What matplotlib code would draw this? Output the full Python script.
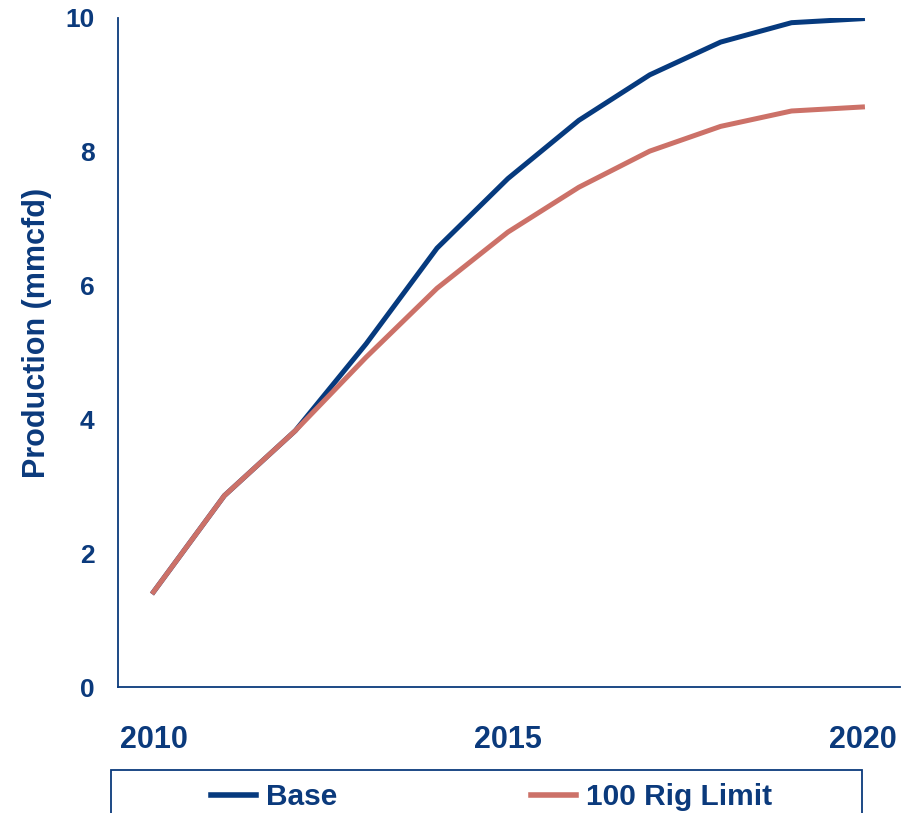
import matplotlib.pyplot as plt
from matplotlib.patches import Rectangle

# data
years = [2010, 2011, 2012, 2013, 2014, 2015, 2016, 2017, 2018, 2019, 2020]
base = [1.42, 2.86, 3.83, 5.13, 6.56, 7.60, 8.47, 9.15, 9.64, 9.93, 9.99]
rig_limit = [1.42, 2.86, 3.83, 4.93, 5.96, 6.80, 7.47, 8.01, 8.38, 8.61, 8.67]
series_names = ["Base", "100 Rig Limit"]
x_ticks = [2010, 2015, 2020]
y_ticks = [0, 2, 4, 6, 8, 10]

navy = "#0B3A7C"
base_col = "#063A7E"
rig_col = "#CC7168"

plt.rcParams["font.family"] = ["Liberation Sans", "DejaVu Sans"]
plt.rcParams["font.weight"] = "bold"

fig = plt.figure(figsize=(9.08, 8.13), dpi=100)
ax = fig.add_axes([118 / 908, 1 - 687 / 813, (900 - 118) / 908, (687 - 18) / 813])

ax.plot(years, base, color=base_col, lw=3.6, label=series_names[0], solid_joinstyle="miter")
ax.plot(years, rig_limit, color=rig_col, lw=3.6, label=series_names[1], solid_joinstyle="miter")

ax.set_xlim(2009.5, 2020.53)
ax.set_ylim(0, 10)
ax.set_xticks(x_ticks)
ax.set_yticks(y_ticks)
ax.tick_params(axis="x", length=0, pad=27, labelsize=22, labelcolor=navy)
ax.tick_params(axis="y", length=0, pad=17, labelsize=19, labelcolor=navy)
for lab in ax.get_xticklabels() + ax.get_yticklabels():
    lab.set_fontweight("bold")

ax.spines["top"].set_visible(False)
ax.spines["right"].set_visible(False)
for s in ("left", "bottom"):
    ax.spines[s].set_color(navy)
    ax.spines[s].set_linewidth(1.3)

ax.set_ylabel("Production (mmcfd)", fontsize=22, fontweight="bold", color=navy)
ax.yaxis.set_label_coords(-0.085, 0.529)

# legend frame runs off the bottom of the figure
fig.add_artist(Rectangle((111 / 908, -0.1), (862 - 111) / 908, 0.1 + 1 - 770 / 813,
                         transform=fig.transFigure, facecolor="none",
                         edgecolor=navy, linewidth=1.3))
leg = fig.legend(loc="center left", bbox_to_anchor=(211 / 908, 1 - 797 / 813),
                 ncol=2, frameon=False, borderpad=0, borderaxespad=0,
                 handlelength=1.5, handletextpad=0.33, columnspacing=6.5,
                 prop={"size": 21.5, "weight": "bold"})
for t in leg.get_texts():
    t.set_color(navy)
for h in leg.legend_handles:
    h.set_linewidth(4)

fig.savefig("out.png", dpi=100)
